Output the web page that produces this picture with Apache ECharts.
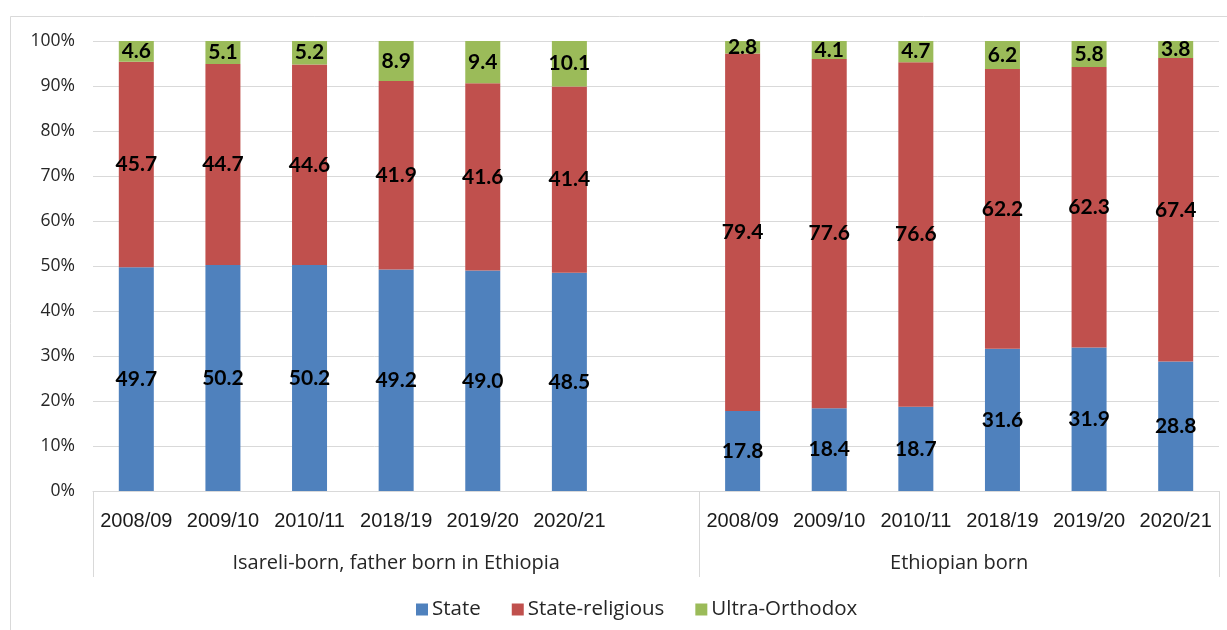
<!DOCTYPE html>
<html>
<head>
<meta charset="utf-8">
<style>
  html, body { margin: 0; padding: 0; background: #ffffff; }
  #chart { width: 1227px; height: 630px; }
</style>
<script src="https://cdn.jsdelivr.net/npm/echarts@6/dist/echarts.min.js"></script>
</head>
<body>
<div id="chart"></div>
<script>
// School-year categories; the empty slot separates the two population groups
const categories = ['2008/09', '2009/10', '2010/11', '2018/19', '2019/20', '2020/21', '',
                    '2008/09', '2009/10', '2010/11', '2018/19', '2019/20', '2020/21'];

// Group headings and how many category slots each one spans
const groupLabels = ['Isareli-born, father born in Ethiopia', 'Ethiopian born'];
const groupSpans = [7, 6];

// Share of pupils (%) by school supervision stream
const stateValues        = [49.7, 50.2, 50.2, 49.2, 49.0, 48.5, null, 17.8, 18.4, 18.7, 31.6, 31.9, 28.8];
const stateReligiousVals = [45.7, 44.7, 44.6, 41.9, 41.6, 41.4, null, 79.4, 77.6, 76.6, 62.2, 62.3, 67.4];
const ultraOrthodoxVals  = [4.6, 5.1, 5.2, 8.9, 9.4, 10.1, null, 2.8, 4.1, 4.7, 6.2, 5.8, 3.8];

const seriesNames = ['State', 'State-religious', 'Ultra-Orthodox'];
const seriesColors = ['#4F81BD', '#C0504D', '#9BBB59'];

const chart = echarts.init(document.getElementById('chart'), null, { renderer: 'canvas' });

const GRID_LINE = '#d9d9d9';
const TEXT_FONT = 'Open Sans';

function makeSeries(name, values, color) {
  return {
    name: name,
    type: 'bar',
    stack: 'total',
    barWidth: 35,
    data: values,
    itemStyle: { color: color },
    label: {
      show: true,
      position: 'inside',
      color: '#000000',
      fontFamily: 'Lato',
      fontWeight: 'bold',
      fontSize: 21,
      formatter: p => (p.value == null ? '' : Number(p.value).toFixed(1))
    },
    emphasis: { disabled: true }
  };
}

chart.setOption({
  animation: false,
  backgroundColor: '#ffffff',
  grid: { left: 93, right: 8, top: 41, bottom: 139, containLabel: false },
  legend: {
    data: seriesNames,
    left: 411,
    top: 594,
    itemWidth: 12,
    itemHeight: 12,
    itemGap: 31,
    icon: 'rect',
    textStyle: { fontFamily: TEXT_FONT, fontSize: 20.5, color: '#262626', padding: [0, 0, 0, -1] }
  },
  xAxis: {
    type: 'category',
    data: categories,
    axisLine: { show: true, lineStyle: { color: GRID_LINE, width: 1 } },
    axisTick: { show: false },
    axisLabel: {
      interval: 0,
      margin: 20,
      fontFamily: 'Liberation Sans',
      fontSize: 20,
      color: '#1a1a1a'
    }
  },
  yAxis: {
    type: 'value',
    min: 0,
    max: 100,
    interval: 10,
    axisLine: { show: false },
    axisTick: { show: false },
    splitLine: { lineStyle: { color: GRID_LINE, width: 1 } },
    axisLabel: {
      formatter: '{value}%',
      margin: 18,
      fontFamily: TEXT_FONT,
      fontSize: 17.5,
      color: '#262626'
    }
  },
  series: [
    makeSeries(seriesNames[0], stateValues, seriesColors[0]),
    makeSeries(seriesNames[1], stateReligiousVals, seriesColors[1]),
    makeSeries(seriesNames[2], ultraOrthodoxVals, seriesColors[2])
  ]
});

// Group dividers and group headings placed from the category axis scale
const c0 = chart.convertToPixel({ xAxisIndex: 0 }, 0);
const c1 = chart.convertToPixel({ xAxisIndex: 0 }, 1);
const band = c1 - c0;
const axisY = chart.convertToPixel({ yAxisIndex: 0 }, 0);

const graphics = [
  {
    type: 'rect',
    silent: true,
    shape: { x: 10.5, y: 16.5, width: 1240, height: 640 },
    style: { fill: 'none', stroke: GRID_LINE, lineWidth: 1 }
  }
];

let start = 0;
const boundaries = [c0 - band / 2];
groupSpans.forEach((span, gi) => {
  const left = chart.convertToPixel({ xAxisIndex: 0 }, start) - band / 2;
  const right = chart.convertToPixel({ xAxisIndex: 0 }, start + span - 1) + band / 2;
  boundaries.push(right);
  graphics.push({
    type: 'text',
    silent: true,
    x: (left + right) / 2,
    y: axisY + 72,
    style: {
      text: groupLabels[gi],
      fontFamily: TEXT_FONT,
      fontSize: 20,
      fill: '#262626',
      textAlign: 'center',
      textVerticalAlign: 'middle'
    }
  });
  start += span;
});

boundaries.forEach(bx => {
  const x = Math.round(bx) + 0.5;
  graphics.push({
    type: 'line',
    silent: true,
    shape: { x1: x, y1: axisY, x2: x, y2: axisY + 86 },
    style: { stroke: GRID_LINE, lineWidth: 1 }
  });
});

chart.setOption({ graphic: graphics });
</script>
</body>
</html>
